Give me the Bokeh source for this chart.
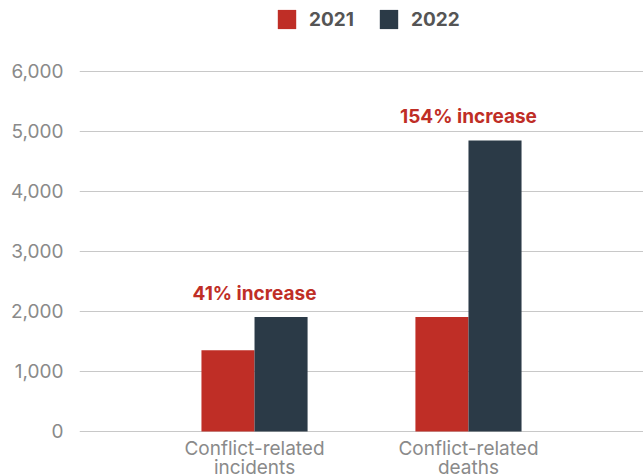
from bokeh.plotting import figure
from bokeh.models import (ColumnDataSource, FactorRange, Range1d, Legend, LegendItem,
                          FixedTicker, NumeralTickFormatter)
from bokeh.transform import dodge
from bokeh.core.properties import value
from bokeh.embed import file_html
from bokeh.resources import INLINE

categories = ["Conflict-related incidents", "Conflict-related deaths"]
category_labels = ["Conflict-related\nincidents", "Conflict-related\ndeaths"]
values_2021 = [1355, 1910]
values_2022 = [1910, 4850]
annotations = ["41% increase", "154% increase"]
y_ticks = [0, 1000, 2000, 3000, 4000, 5000, 6000]

RED = "#bf2e26"
NAVY = "#2b3a47"
FONT = "Inter"

src = ColumnDataSource(dict(cat=categories, lab=category_labels, zero=[0, 0],
                            v21=values_2021, v22=values_2022, ann=annotations))

p = figure(width=643, height=474, output_backend="svg", toolbar_location=None,
           x_range=FactorRange(*categories, range_padding=0.318),
           y_range=Range1d(-716.7, 7183.3),
           min_border_left=79, min_border_right=0, min_border_top=0, min_border_bottom=0)
p.outline_line_color = None
p.background_fill_color = "white"

r1 = p.vbar(x=dodge("cat", -0.124, range=p.x_range), top="v21", width=0.248, source=src,
            fill_color=RED, line_color=None)
r2 = p.vbar(x=dodge("cat", 0.124, range=p.x_range), top="v22", width=0.248, source=src,
            fill_color=NAVY, line_color=None)

p.text(x="cat", y="v22", text="ann", source=src, text_align="center", text_baseline="bottom",
       y_offset=-12, text_color=RED, text_font=value(FONT), text_font_style="bold",
       text_font_size="19px")

# category labels (two lines) below the bars
p.text(x="cat", y="zero", text="lab", source=src, text_align="center", text_baseline="top",
       y_offset=6, text_color="#8a8a8a", text_font=value(FONT), text_font_size="19px",
       text_line_height=0.8)

p.xgrid.grid_line_color = None
p.ygrid.grid_line_color = "#c8c8c8"
p.ygrid.ticker = FixedTicker(ticks=y_ticks)

p.xaxis.visible = False

p.yaxis.ticker = FixedTicker(ticks=y_ticks)
p.yaxis.formatter = NumeralTickFormatter(format="0,0")
p.yaxis.axis_line_color = None
p.yaxis.major_tick_line_color = None
p.yaxis.minor_tick_line_color = None
p.yaxis.major_label_text_font = FONT
p.yaxis.major_label_text_font_size = "19px"
p.yaxis.major_label_text_color = "#8a8a8a"
p.yaxis.major_label_standoff = 10

legend = Legend(items=[LegendItem(label="2021", renderers=[r1]),
                       LegendItem(label="2022", renderers=[r2])],
                orientation="horizontal", location=(196, 443),
                background_fill_alpha=0, border_line_color=None, padding=0, margin=0,
                spacing=23, label_standoff=11, glyph_width=23, glyph_height=24,
                label_text_font=FONT, label_text_font_style="bold",
                label_text_font_size="19px", label_text_color="#555555")
p.add_layout(legend)

open("out.html", "w").write(file_html(p, INLINE))
